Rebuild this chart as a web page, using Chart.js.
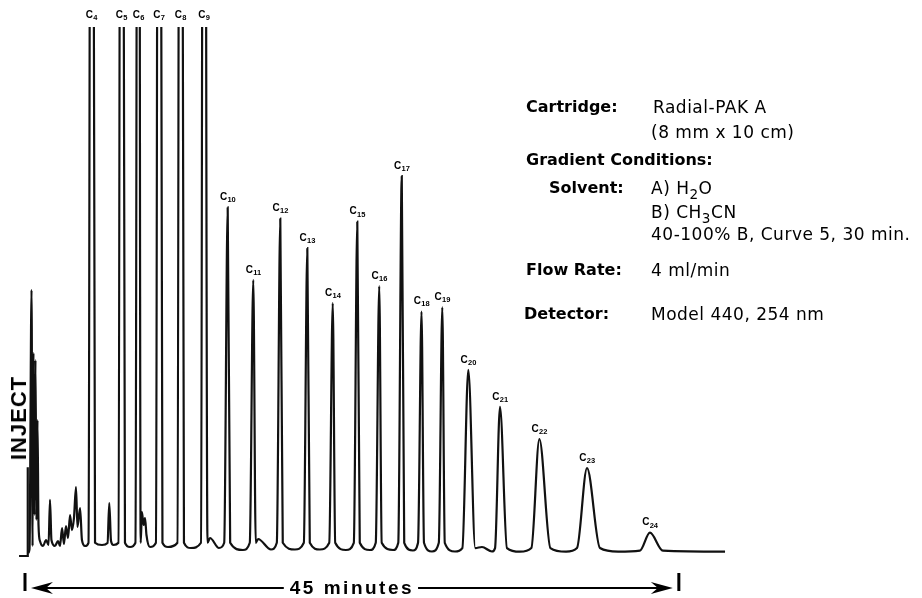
<!DOCTYPE html>
<html>
<head>
<meta charset="utf-8">
<script src="https://cdn.jsdelivr.net/npm/chart.js@4.4.1/dist/chart.umd.min.js"></script>
<style>
  html, body { margin: 0; padding: 0; background: #fff; }
  #wrap { position: relative; width: 922px; height: 598px; overflow: hidden; background: #fff; }
  #chart { position: absolute; left: 0; top: 0; }
  .t { position: absolute; white-space: nowrap; color: #000; font-family: "DejaVu Sans", sans-serif; line-height: 20px; }
  .lab { font-weight: bold; font-size: 16px; }
  .val { font-size: 17px; letter-spacing: 0.5px; }
  .sub { font-size: 80%; position: relative; top: 5px; }
  #inject { position: absolute; left: 18.5px; top: 418px; transform: translate(-50%, -50%) rotate(-90deg);
            font-family: "Liberation Sans", Arial, sans-serif; font-weight: bold; font-size: 22px; line-height: 22px;
            letter-spacing: 1px; color: #000; white-space: nowrap; }
</style>
</head>
<body>
<div id="wrap">
  <canvas id="chart" width="922" height="598"></canvas>
  <div id="inject">INJECT</div>

  <div class="t lab" style="left:526px; top:97px;">Cartridge:</div>
  <div class="t val" style="left:653px; top:97px;">Radial-PAK A</div>
  <div class="t val" style="left:651px; top:122px;">(8 mm x 10 cm)</div>

  <div class="t lab" style="left:526px; top:150px;">Gradient Conditions:</div>
  <div class="t lab" style="left:549px; top:178px;">Solvent:</div>
  <div class="t val" style="left:651px; top:178px;">A) H<span class="sub">2</span>O</div>
  <div class="t val" style="left:651px; top:202px;">B) CH<span class="sub">3</span>CN</div>
  <div class="t val" style="left:651px; top:224px;">40-100% B, Curve 5, 30 min.</div>

  <div class="t lab" style="left:526px; top:260px;">Flow Rate:</div>
  <div class="t val" style="left:651px; top:260px;">4 ml/min</div>

  <div class="t lab" style="left:524px; top:304px;">Detector:</div>
  <div class="t val" style="left:651px; top:304px;">Model 440, 254 nm</div>
</div>

<script>
// ---------- DATA (time in minutes, response in relative units; 300 = off-scale estimate) ----------
const peakNames   = ['C4','C5','C6','C7','C8','C9','C10','C11','C12','C13','C14','C15','C16','C17','C18','C19','C20','C21','C22','C23','C24'];
const peakTimes   = [4.58, 6.64, 7.81, 9.22, 10.70, 12.32, 13.95, 15.71, 17.57, 19.43, 21.18, 22.87, 24.38, 25.93, 27.29, 28.72, 30.51, 32.69, 35.40, 38.68, 43.01];
const peakHeights = [300, 300, 300, 300, 300, 300, 65.9, 52.2, 63.8, 58.2, 47.8, 63.2, 51.0, 71.8, 46.2, 47.0, 35.2, 28.2, 22.1, 16.6, 4.4];
const peakRise    = [0.21, 0.21, 0.21, 0.21, 0.21, 0.21, 0.24, 0.24, 0.24, 0.24, 0.24, 0.24, 0.24, 0.24, 0.24, 0.24, 0.41, 0.34, 0.55, 0.69, 0.69];
const peakFall    = [0.24, 0.24, 0.15, 0.24, 0.24, 0.24, 0.17, 0.17, 0.17, 0.17, 0.17, 0.17, 0.17, 0.17, 0.17, 0.17, 0.48, 0.48, 0.76, 0.89, 0.89];
const peakBase    = [2.5, 2.5, 2.5, 2.5, 2.5, 2.5, 2.5, 2.5, 2.5, 2.5, 2.5, 2.5, 2.5, 2.5, 2.5, 2.5, 1.5, 1.5, 1.5, 1.5, 1.0];

// valley bottom following each peak
const valleyTimes  = [5.30, 7.23, 8.60, 9.84, 11.42, 13.35, 15.00, 16.93, 18.58, 20.30, 22.09, 23.74, 25.33, 26.70, 28.01, 29.59, 32.14, 34.07, 37.24, 40.82, 48.18];
const valleyLevels = [2.08, 1.70, 1.70, 1.70, 1.51, 1.51, 1.13, 1.23, 1.23, 1.23, 1.13, 1.13, 1.13, 1.04, 0.85, 0.85, 0.85, 0.81, 0.81, 0.81, 0.81];

// solvent front and early small peaks
const frontTimes  = [0.22, 0.31, 0.45, 0.52, 0.58, 0.65, 0.72, 0.79, 0.86, 0.93, 1.03, 1.24, 1.45, 1.62, 1.72, 1.82, 2.06, 2.27, 2.41, 2.55, 2.68, 2.82, 2.96, 3.10, 3.23, 3.37, 3.51, 3.61, 3.79, 3.92, 4.13];
const frontLevels = [0.6, 1.32, 50.3, 1.89, 38.4, 7.75, 37.05, 6.81, 25.7, 5.86, 2.84, 1.89, 3.02, 2.08, 10.6, 3.02, 1.89, 2.84, 1.89, 5.29, 2.27, 5.67, 3.40, 7.75, 4.91, 7.18, 13.04, 5.48, 9.07, 3.02, 1.89];

// minor unlabeled features between the labeled peaks
const minorTimes  = [5.68, 5.80, 5.92, 6.09, 8.05, 8.16, 8.26, 8.36, 12.73, 16.04, 31.45];
const minorLevels = [2.46, 10.0, 2.84, 2.08, 8.32, 5.86, 7.18, 3.97, 3.40, 3.21, 1.70];

// injection mark
const injectTimes  = [-0.41, 0.19, 0.19];
const injectLevels = [0, 0, 16.8];

// run-time bar
const spanStart = 0;
const spanEnd = 45;
const spanLabel = '45 minutes';

// ---------- build the trace from the read points ----------
const trace = [];
frontTimes.forEach((t, i) => trace.push({ x: t, y: frontLevels[i] }));
peakTimes.forEach((t, i) => {
  trace.push({ x: t - peakRise[i], y: peakBase[i] });
  trace.push({ x: t, y: peakHeights[i] });
  trace.push({ x: t + peakFall[i], y: peakBase[i] });
  trace.push({ x: valleyTimes[i], y: valleyLevels[i] });
});
minorTimes.forEach((t, i) => trace.push({ x: t, y: minorLevels[i] }));
trace.sort((a, b) => a.x - b.x);

const injectMark = injectTimes.map((t, i) => ({ x: t, y: injectLevels[i] }));

const overlayPlugin = {
  id: 'overlay',
  afterDatasetsDraw(chart) {
    const ctx = chart.ctx;
    const xs = chart.scales.x, ys = chart.scales.y;
    ctx.save();
    ctx.fillStyle = '#000';
    ctx.strokeStyle = '#000';
    // peak labels
    const fMain = 'bold 10px "Liberation Sans", Arial, sans-serif';
    const fSub = 'bold 7.5px "Liberation Sans", Arial, sans-serif';
    peakNames.forEach((name, i) => {
      const px = xs.getPixelForValue(peakTimes[i]);
      const py = peakHeights[i] > ys.max ? 15 : ys.getPixelForValue(peakHeights[i]) - 10;
      const main = name.charAt(0), sub = name.slice(1);
      ctx.textBaseline = 'middle';
      ctx.textAlign = 'left';
      ctx.font = fMain;
      const w1 = ctx.measureText(main).width;
      ctx.font = fSub;
      const w2 = ctx.measureText(sub).width;
      const left = px - (w1 + w2) / 2;
      ctx.font = fMain;
      ctx.fillText(main, left, py);
      ctx.font = fSub;
      ctx.fillText(sub, left + w1 + 0.3, py + 2.8);
    });

    // time span arrow
    const ay = 588;
    const x0 = xs.getPixelForValue(spanStart), x1 = xs.getPixelForValue(spanEnd);
    ctx.lineWidth = 3;
    ctx.beginPath();
    ctx.moveTo(x0, 573); ctx.lineTo(x0, 591);
    ctx.moveTo(x1, 573); ctx.lineTo(x1, 591);
    ctx.stroke();

    ctx.font = 'bold 19px "Liberation Sans", Arial, sans-serif';
    try { ctx.letterSpacing = '2.5px'; } catch (e) {}
    const tw = ctx.measureText(spanLabel).width;
    const cx = (x0 + x1) / 2;
    ctx.textAlign = 'left';
    ctx.textBaseline = 'alphabetic';
    ctx.fillText(spanLabel, cx - tw / 2, 594);
    try { ctx.letterSpacing = '0px'; } catch (e) {}

    ctx.lineWidth = 2;
    ctx.beginPath();
    ctx.moveTo(x0 + 10, ay); ctx.lineTo(cx - tw / 2 - 6, ay);
    ctx.moveTo(cx + tw / 2 + 4, ay); ctx.lineTo(x1 - 10, ay);
    ctx.stroke();
    const head = (tip, dir) => {
      ctx.beginPath();
      ctx.moveTo(tip, ay);
      ctx.lineTo(tip + dir * 22, ay - 6);
      ctx.lineTo(tip + dir * 15, ay);
      ctx.lineTo(tip + dir * 22, ay + 6);
      ctx.closePath();
      ctx.fill();
    };
    head(x0 + 6, 1);
    head(x1 - 6, -1);
    ctx.restore();
  }
};

new Chart(document.getElementById('chart'), {
  type: 'line',
  data: {
    datasets: [
      {
        label: 'Chromatogram',
        data: trace,
        borderColor: '#111',
        borderWidth: 2.2,
        pointRadius: 0,
        fill: false,
        cubicInterpolationMode: 'monotone'
      },
      {
        label: 'Inject',
        data: injectMark,
        borderColor: '#111',
        borderWidth: 2.2,
        pointRadius: 0,
        fill: false,
        tension: 0,
        clip: false
      }
    ]
  },
  options: {
    responsive: false,
    animation: false,
    events: [],
    layout: { padding: { left: 10.47, right: 192.3, top: 27, bottom: 42 } },
    plugins: { legend: { display: false }, tooltip: { enabled: false }, title: { display: false } },
    scales: {
      x: { type: 'linear', min: -1, max: 48.5, display: false },
      y: { type: 'linear', min: 0, max: 100, display: false }
    }
  },
  plugins: [overlayPlugin]
});
</script>
</body>
</html>
